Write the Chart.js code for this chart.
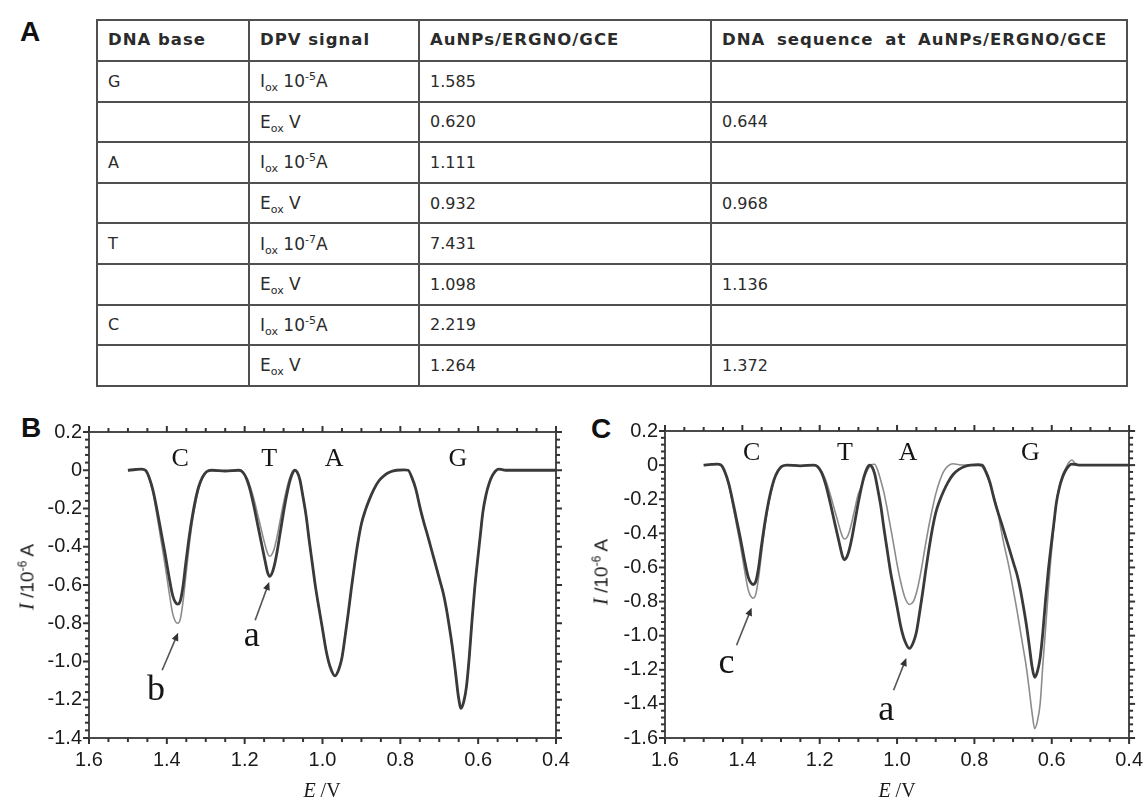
<!DOCTYPE html>
<html>
<head>
<meta charset="utf-8">
<script src="https://cdn.jsdelivr.net/npm/chart.js@4.4.1/dist/chart.umd.min.js"></script>
<style>
    body {
        margin: 0;
        background: #fff;
    }

    .page {
        position: relative;
        width: 1146px;
        height: 804px;
        overflow: hidden;
    }

    .tag {
        position: absolute;
        transform: translate(-50%, -50%);
        font-family: 'Liberation Sans', Arial, sans-serif;
        font-weight: bold;
        font-size: 28px;
        line-height: 1;
        color: #111;
    }

    table.dpv {
        position: absolute;
        left: 96px;
        top: 19px;
        width: 1030px;
        border-collapse: collapse;
        table-layout: fixed;
        font-family: 'DejaVu Sans', sans-serif;
        color: #2b2b2b;
    }

    table.dpv th,
    table.dpv td {
        border: 2px solid #505050;
        padding: 0 0 0 10px;
        text-align: left;
        font-size: 16px;
        white-space: nowrap;
    }

    table.dpv th {
        height: 36px;
        font-weight: bold;
        font-size: 16.5px;
        letter-spacing: 1px;
        vertical-align: middle;
        padding-bottom: 3px;
    }

    table.dpv th.wide {
        word-spacing: 5px;
    }

    table.dpv td {
        height: 38.6px;
    }

    table.dpv td.sig {
        font-size: 17px;
    }

    table.dpv sub,
    table.dpv sup {
        font-size: 11px;
        line-height: 0;
    }

    .chartbox {
        position: absolute;
        top: 410px;
        width: 573px;
        height: 394px;
    }

    .ytitle {
        position: absolute;
        transform: translate(-50%, -50%) rotate(-90deg);
        white-space: nowrap;
        font-family: 'Liberation Sans', Arial, sans-serif;
        font-size: 19px;
        color: #1a1a1a;
    }

    .ytitle i,
    .xtitle {
        font-family: 'Liberation Serif', 'Times New Roman', serif;
    }

    .ytitle i {
        font-size: 21px;
    }

    .ytitle sup {
        font-size: 12px;
    }

    .xtitle {
        position: absolute;
        transform: translate(-50%, -50%);
        white-space: nowrap;
        font-size: 20px;
        color: #1a1a1a;
    }
</style>
</head>
<body>
<div class="page">
    <div class="tag" style="left:30px; top:32px;">A</div>
    <table class="dpv" id="dpvTable">
        <colgroup>
            <col style="width:152px">
            <col style="width:170px">
            <col style="width:292px">
            <col style="width:416px">
        </colgroup>
        <thead></thead>
        <tbody></tbody>
    </table>

    <div class="tag" style="left:31px; top:428px;">B</div>
    <div class="chartbox" style="left:0px;"><canvas id="chartB"></canvas></div>
    <div class="ytitle" style="left:27px; top:577px;"><i>I</i> /10<sup>-6</sup> A</div>
    <div class="xtitle" style="left:322px; top:790px;"><i>E</i> /V</div>

    <div class="tag" style="left:601px; top:429px;">C</div>
    <div class="chartbox" style="left:573px;"><canvas id="chartC"></canvas></div>
    <div class="ytitle" style="left:601px; top:572px;"><i>I</i> /10<sup>-6</sup> A</div>
    <div class="xtitle" style="left:897px; top:790px;"><i>E</i> /V</div>
</div>

<script>
    // table A
    const tableHeader = ['DNA base', 'DPV signal', 'AuNPs/ERGNO/GCE', 'DNA sequence at AuNPs/ERGNO/GCE']
    const tableBase = ['G', '', 'A', '', 'T', '', 'C', '']
    const tableSignal = ['I<sub>ox</sub> 10<sup>-5</sup>A', 'E<sub>ox</sub> V', 'I<sub>ox</sub> 10<sup>-5</sup>A', 'E<sub>ox</sub> V',
        'I<sub>ox</sub> 10<sup>-7</sup>A', 'E<sub>ox</sub> V', 'I<sub>ox</sub> 10<sup>-5</sup>A', 'E<sub>ox</sub> V']
    const tableElectrode = ['1.585', '0.620', '1.111', '0.932', '7.431', '1.098', '2.219', '1.264']
    const tableSequence = ['', '0.644', '', '0.968', '', '1.136', '', '1.372']

    // DPV traces, E in V, I in 10^-6 A
    const potential = [1.500, 1.480, 1.465, 1.455, 1.445, 1.435, 1.425, 1.415, 1.405, 1.395,
        1.385, 1.378, 1.372, 1.365, 1.358, 1.351, 1.344, 1.336, 1.327, 1.318,
        1.308, 1.298, 1.285, 1.250, 1.215, 1.205, 1.195, 1.185, 1.175, 1.165,
        1.155, 1.147, 1.141, 1.136, 1.130, 1.124, 1.117, 1.109, 1.101, 1.093,
        1.085, 1.078, 1.071, 1.065, 1.058, 1.050, 1.042, 1.034, 1.026, 1.018,
        1.010, 1.000, 0.990, 0.980, 0.968, 0.958, 0.950, 0.942, 0.934, 0.926,
        0.918, 0.910, 0.900, 0.890, 0.880, 0.868, 0.855, 0.840, 0.825, 0.810,
        0.790, 0.780, 0.770, 0.760, 0.750, 0.740, 0.730, 0.722, 0.714, 0.706,
        0.698, 0.690, 0.682, 0.674, 0.666, 0.658, 0.651, 0.644, 0.637, 0.630,
        0.623, 0.616, 0.609, 0.602, 0.595, 0.588, 0.580, 0.572, 0.564, 0.556,
        0.548, 0.540, 0.530, 0.500, 0.400]

    // curve a (dark), same in B and C
    const curveA = [0, 0.004, 0.006, 0, -0.04, -0.11, -0.21, -0.32, -0.43, -0.55,
        -0.655, -0.69, -0.70, -0.68, -0.60, -0.48, -0.37, -0.26, -0.16, -0.085,
        -0.035, -0.008, 0, -0.004, 0, -0.01, -0.045, -0.11, -0.20, -0.30,
        -0.40, -0.48, -0.535, -0.555, -0.54, -0.50, -0.43, -0.33, -0.23, -0.14,
        -0.065, -0.02, 0, -0.01, -0.05, -0.14, -0.24, -0.37, -0.49, -0.61,
        -0.71, -0.83, -0.95, -1.03, -1.075, -1.04, -0.98, -0.87, -0.75, -0.62,
        -0.50, -0.39, -0.28, -0.21, -0.155, -0.10, -0.055, -0.025, -0.008, 0,
        0.002, 0, -0.04, -0.10, -0.19, -0.27, -0.34, -0.40, -0.46, -0.52,
        -0.58, -0.64, -0.72, -0.82, -0.93, -1.06, -1.18, -1.245, -1.21, -1.13,
        -0.98, -0.79, -0.62, -0.48, -0.35, -0.22, -0.13, -0.07, -0.03, -0.005,
        0.006, 0.004, 0, 0, 0]

    // curve b (light, panel B)
    const curveB = [0, 0.004, 0.006, 0, -0.045, -0.125, -0.24, -0.365, -0.49, -0.625,
        -0.75, -0.79, -0.80, -0.775, -0.68, -0.55, -0.42, -0.29, -0.18, -0.095,
        -0.04, -0.008, 0, -0.004, 0, -0.01, -0.04, -0.09, -0.16, -0.245,
        -0.33, -0.395, -0.435, -0.45, -0.44, -0.41, -0.35, -0.265, -0.18, -0.105,
        -0.045, -0.01, 0.002, -0.012, -0.055, -0.14, -0.24, -0.37, -0.49, -0.61,
        -0.71, -0.83, -0.95, -1.03, -1.075, -1.04, -0.98, -0.87, -0.75, -0.62,
        -0.50, -0.39, -0.28, -0.21, -0.155, -0.10, -0.055, -0.025, -0.008, 0,
        0.002, 0, -0.04, -0.10, -0.19, -0.27, -0.34, -0.40, -0.46, -0.52,
        -0.58, -0.64, -0.72, -0.82, -0.93, -1.06, -1.18, -1.245, -1.21, -1.13,
        -0.98, -0.79, -0.62, -0.48, -0.35, -0.22, -0.13, -0.07, -0.03, -0.005,
        0.006, 0.004, 0, 0, 0]

    // curve c (light, panel C)
    const curveC = [0, 0.004, 0.006, 0, -0.045, -0.12, -0.23, -0.35, -0.47, -0.605,
        -0.73, -0.77, -0.78, -0.755, -0.66, -0.53, -0.40, -0.28, -0.17, -0.09,
        -0.035, -0.008, 0, -0.004, 0, -0.01, -0.035, -0.085, -0.155, -0.235,
        -0.315, -0.38, -0.42, -0.433, -0.425, -0.395, -0.335, -0.255, -0.175, -0.13,
        -0.075, -0.035, -0.01, 0.003, 0.005, -0.03, -0.09, -0.16, -0.25, -0.35,
        -0.45, -0.58, -0.69, -0.775, -0.817, -0.80, -0.75, -0.67, -0.57, -0.46,
        -0.36, -0.27, -0.17, -0.095, -0.04, -0.005, 0.008, 0.002, 0, 0,
        0, -0.01, -0.05, -0.11, -0.18, -0.27, -0.39, -0.48, -0.56, -0.65,
        -0.75, -0.85, -0.96, -1.07, -1.18, -1.32, -1.45, -1.545, -1.50, -1.40,
        -1.17, -0.96, -0.74, -0.54, -0.37, -0.22, -0.12, -0.06, -0.02, 0.015,
        0.03, 0.012, 0, 0, 0]

    // build table
    const thead = document.querySelector('#dpvTable thead')
    thead.innerHTML = '<tr>' + tableHeader.map((h, i) => '<th' + (i == 3 ? ' class="wide"' : '') + '>' + h + '</th>').join('') + '</tr>'
    const tbody = document.querySelector('#dpvTable tbody')
    tableBase.forEach((b, i) => {
        const tr = document.createElement('tr')
        tr.innerHTML = '<td>' + b + '</td><td class="sig">' + tableSignal[i] + '</td><td>' + tableElectrode[i] + '</td><td>' + tableSequence[i] + '</td>'
        tbody.appendChild(tr)
    })

    Chart.defaults.font.family = "'Liberation Sans', Arial, sans-serif"
    Chart.defaults.color = '#1a1a1a'

    const toPoints = values => potential.map((e, i) => ({ x: e, y: values[i] }))

    // outward tick marks on all four sides, taken from the scales' own ticks
    const frameTicks = {
        id: 'frameTicks',
        afterDraw(chart) {
            const { ctx, chartArea: a, scales: { x, y } } = chart
            ctx.save()
            ctx.strokeStyle = '#333'
            ctx.lineWidth = 2
            const line = (x1, y1, x2, y2) => {
                ctx.beginPath()
                ctx.moveTo(x1, y1)
                ctx.lineTo(x2, y2)
                ctx.stroke()
            }
            const walk = (scale, parts, fn) => {
                const vals = scale.ticks.map(t => t.value).sort((p, q) => p - q)
                vals.forEach((v, k) => {
                    fn(scale.getPixelForValue(v), 6)
                    if (k < vals.length - 1) {
                        for (let j = 1; j < parts; j++) {
                            fn(scale.getPixelForValue(v + (vals[k + 1] - v) * j / parts), 4)
                        }
                    }
                })
            }
            walk(x, 4, (px, len) => {
                line(px, a.bottom, px, a.bottom + len)
                line(px, a.top, px, a.top - len)
            })
            walk(y, 5, (py, len) => {
                line(a.left, py, a.left - len, py)
                line(a.right, py, a.right + len, py)
            })
            ctx.restore()
        }
    }

    // letters and arrows placed in data units
    const makeMarks = (labels, arrows) => ({
        id: 'marks',
        afterDatasetsDraw(chart) {
            const { ctx, scales: { x, y } } = chart
            ctx.save()
            ctx.fillStyle = '#151515'
            ctx.textAlign = 'center'
            ctx.textBaseline = 'middle'
            labels.forEach(l => {
                ctx.font = l.size + "px 'Liberation Serif', 'Times New Roman', serif"
                ctx.fillText(l.text, x.getPixelForValue(l.e), y.getPixelForValue(l.i))
            })
            ctx.strokeStyle = '#555'
            ctx.fillStyle = '#333'
            ctx.lineWidth = 1.6
            arrows.forEach(a => {
                const x1 = x.getPixelForValue(a.from[0]), y1 = y.getPixelForValue(a.from[1])
                const x2 = x.getPixelForValue(a.to[0]), y2 = y.getPixelForValue(a.to[1])
                const ang = Math.atan2(y2 - y1, x2 - x1)
                ctx.beginPath()
                ctx.moveTo(x1, y1)
                ctx.lineTo(x2 - 5 * Math.cos(ang), y2 - 5 * Math.sin(ang))
                ctx.stroke()
                ctx.beginPath()
                ctx.moveTo(x2, y2)
                ctx.lineTo(x2 - 8 * Math.cos(ang) + 3.5 * Math.sin(ang), y2 - 8 * Math.sin(ang) - 3.5 * Math.cos(ang))
                ctx.lineTo(x2 - 8 * Math.cos(ang) - 3.5 * Math.sin(ang), y2 - 8 * Math.sin(ang) + 3.5 * Math.cos(ang))
                ctx.closePath()
                ctx.fill()
            })
            ctx.restore()
        }
    })

    function frameScales(yMin, yMax, leftWidth) {
        // invisible tick gap so labels sit clear of the drawn tick marks
        const gap = len => ({ display: true, drawOnChartArea: false, drawTicks: true, tickLength: len, tickColor: 'rgba(0,0,0,0)' })
        const noGrid = { display: false, drawOnChartArea: false, drawTicks: false }
        const frame = { display: true, color: '#4a4a4a', width: 2 }
        const flat = s => {
            if (s.isHorizontal()) s.height = 0
            else s.width = 0
        }
        const xr = { type: 'linear', min: 0.4, max: 1.6, reverse: true }
        const yr = { type: 'linear', min: yMin, max: yMax }
        return {
            x: {
                ...xr, position: 'bottom',
                ticks: { stepSize: 0.2, padding: 3, font: { size: 20 }, maxRotation: 0, autoSkip: false, callback: v => v.toFixed(1) },
                grid: gap(7), border: frame,
                afterFit: s => { s.height = 66 }
            },
            xTop: { ...xr, position: 'top', ticks: { display: false }, grid: noGrid, border: frame, afterFit: flat },
            y: {
                ...yr, position: 'left',
                ticks: { stepSize: 0.2, padding: 2, font: { size: 20 }, autoSkip: false, callback: v => Math.abs(v) < 1e-9 ? '0' : v.toFixed(1) },
                grid: gap(5), border: frame,
                afterFit: s => { s.width = leftWidth }
            },
            yRight: { ...yr, position: 'right', ticks: { display: false }, grid: noGrid, border: frame, afterFit: flat }
        }
    }

    function drawPanel(canvasId, traces, yMin, yMax, leftWidth, pad, marks) {
        return new Chart(document.getElementById(canvasId), {
            type: 'line',
            data: {
                datasets: traces.map(t => ({
                    data: toPoints(t.values),
                    borderColor: t.color,
                    borderWidth: t.width,
                    pointRadius: 0,
                    cubicInterpolationMode: 'monotone',
                    fill: false
                }))
            },
            options: {
                responsive: true,
                maintainAspectRatio: false,
                animation: false,
                layout: { padding: pad },
                plugins: { legend: { display: false }, tooltip: { enabled: false } },
                scales: frameScales(yMin, yMax, leftWidth)
            },
            plugins: [frameTicks, marks]
        })
    }

    drawPanel('chartB', [
        { values: curveA, color: '#3a3a3a', width: 2.8 },
        { values: curveB, color: '#8c8c8c', width: 1.6 }
    ], -1.4, 0.2, 89, { left: 0, right: 17, top: 22, bottom: 0 }, makeMarks([
        { text: 'C', e: 1.366, i: 0.058, size: 26 },
        { text: 'T', e: 1.137, i: 0.058, size: 26 },
        { text: 'A', e: 0.970, i: 0.058, size: 26 },
        { text: 'G', e: 0.652, i: 0.058, size: 26 },
        { text: 'b', e: 1.428, i: -1.15, size: 36 },
        { text: 'a', e: 1.182, i: -0.87, size: 36 }
    ], [
        { from: [1.412, -1.046], to: [1.371, -0.85] },
        { from: [1.173, -0.784], to: [1.137, -0.584] }
    ]))

    drawPanel('chartC', [
        { values: curveA, color: '#3a3a3a', width: 2.8 },
        { values: curveC, color: '#8c8c8c', width: 1.6 }
    ], -1.6, 0.2, 92, { left: 0, right: 16, top: 21, bottom: 0 }, makeMarks([
        { text: 'C', e: 1.376, i: 0.068, size: 26 },
        { text: 'T', e: 1.135, i: 0.068, size: 26 },
        { text: 'A', e: 0.972, i: 0.068, size: 26 },
        { text: 'G', e: 0.655, i: 0.068, size: 26 },
        { text: 'c', e: 1.441, i: -1.165, size: 36 },
        { text: 'a', e: 1.028, i: -1.44, size: 36 }
    ], [
        { from: [1.415, -1.056], to: [1.376, -0.836] },
        { from: [1.009, -1.32], to: [0.976, -1.131] }
    ]))
</script>
</body>
</html>
